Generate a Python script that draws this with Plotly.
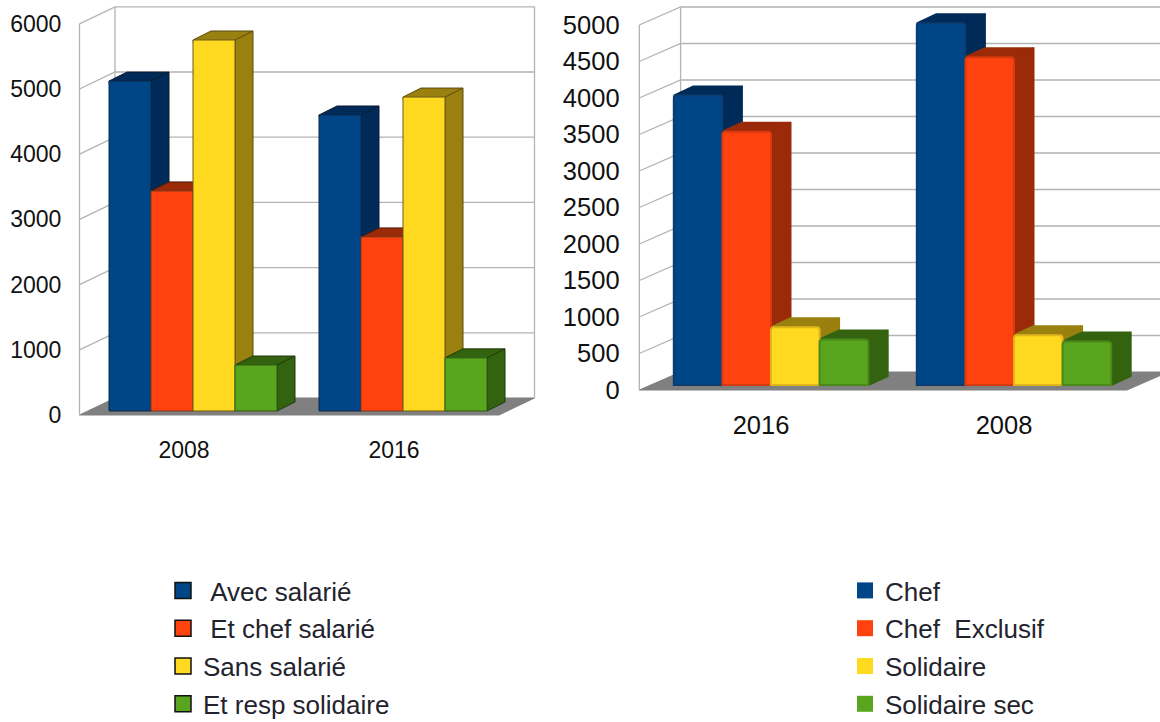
import plotly.graph_objects as go

FONT = "Liberation Sans, Arial, sans-serif"

# ---------- data ----------
left_years = ["2008", "2016"]
avec_salarie = [5060, 4540]
et_chef_salarie = [3375, 2670]
sans_salarie = [5690, 4815]
et_resp_solidaire = [705, 815]
left_ticks = [0, 1000, 2000, 3000, 4000, 5000, 6000]

right_years = ["2016", "2008"]
chef = [3965, 4955]
chef_exclusif = [3470, 4490]
solidaire = [790, 680]
solidaire_sec = [625, 595]
right_ticks = [0, 500, 1000, 1500, 2000, 2500, 3000, 3500, 4000, 4500, 5000]

front_colors = ["#004586", "#ff420e", "#ffd820", "#5aa51e"]
depth_colors = ["#002a57", "#9a2a08", "#99800f", "#346310"]
left_names = ["\u00a0Avec salarié", "\u00a0Et chef salarié", "Sans salarié", "Et resp solidaire"]
right_names = ["Chef", "Chef\u00a0 Exclusif", "Solidaire", "Solidaire sec"]

W, H = 1160, 722
fig = go.Figure()


def add_chart(n, cats, series, names, ticks, g):
    k = g["k"]
    step = g["step"]
    to_x = lambda px: (px - g["cx0"]) / step
    xr = [to_x(g["dom_x"][0]), to_x(g["dom_x"][1])]
    yr = [(g["base"] - g["dom_y"][1]) / k, (g["base"] - g["dom_y"][0]) / k]
    off = (g["wall_base"] - g["base"]) / k
    wdx, wdy = g["wall_depth"][0] / step, g["wall_depth"][1] / k
    bdx, bdy = g["bar_depth"][0] / step, g["bar_depth"][1] / k
    fl, fr = to_x(g["wall_x"][0]), to_x(g["wall_x"][1])

    xa_base = f"x{2 * n - 1}"
    ya_base = f"y{2 * n - 1}"
    xa_top = f"x{2 * n}"
    ya_top = f"y{2 * n}"

    # floor
    v0 = -off
    fig.add_trace(go.Scatter(
        x=[fl, fl + wdx, fr + wdx, fr, fl], y=[v0, v0 + wdy, v0 + wdy, v0, v0],
        fill="toself", fillcolor="#808080", mode="lines", line=dict(color="#808080", width=1),
        hoverinfo="skip", showlegend=False, xaxis=xa_base, yaxis=ya_base))
    # walls and grid
    gx, gy = [], []
    top = ticks[-1] - off
    gx += [fl, fl, None, fl + wdx, fl + wdx, None, fr + wdx, fr + wdx, None]
    gy += [v0, top, None, v0 + wdy, top + wdy, None, v0 + wdy, top + wdy, None]
    for t in ticks[1:]:
        gx += [fl, fl + wdx, fr + wdx, None]
        gy += [t - off, t - off + wdy, t - off + wdy, None]
    fig.add_trace(go.Scatter(x=gx, y=gy, mode="lines", line=dict(color="#b3b3b3", width=1.3),
                             hoverinfo="skip", showlegend=False, xaxis=xa_base, yaxis=ya_base))
    # depth faces (top + side), behind every front face
    m = len(series)
    bw = 0.8 / m
    for i, vals in enumerate(series):
        px, py = [], []
        for c, v in enumerate(vals):
            xl = c - 0.4 + i * bw
            xh = xl + bw
            px += [xl, xl + bdx, xh + bdx, xh + bdx, xh, xl, None]
            py += [v, v + bdy, v + bdy, bdy, 0, v, None]
            px += [xh, xh + bdx, None]
            py += [v, v + bdy, None]
            px += [xh, xh, None]
            py += [0, v, None]
        fig.add_trace(go.Scatter(
            x=px, y=py, fill="toself", fillcolor=depth_colors[i], mode="lines",
            line=dict(color=g["depth_edge"][i], width=g["edge_w"]),
            hoverinfo="skip", showlegend=False, xaxis=xa_base, yaxis=ya_base))
    # front faces
    for i, vals in enumerate(series):
        fig.add_trace(go.Bar(
            x=list(range(len(cats))), y=vals, marker=dict(
                color=front_colors[i],
                line=dict(color=g["front_edge"][i], width=g["edge_w"]),
                cornerradius=g["radius"]),
            showlegend=False, hoverinfo="skip", xaxis=xa_top, yaxis=ya_top))
    # legend entries
    for i, name in enumerate(names):
        fig.add_trace(go.Scatter(
            x=[None], y=[None], mode="markers", name=name, legend=g["legend"],
            legendgroup=f"{g['legend']}{i}",
            marker=dict(symbol="square", size=g["swatch"], color=front_colors[i],
                        line=dict(color=g["swatch_edge"], width=g["swatch_w"])),
            xaxis=xa_base, yaxis=ya_base))

    dom_x = [g["dom_x"][0] / W, g["dom_x"][1] / W]
    dom_y = [1 - g["dom_y"][1] / H, 1 - g["dom_y"][0] / H]
    tickfont = dict(family=FONT, size=g["font"], color="#111111")
    fig.update_layout({
        f"xaxis{2 * n - 1}": dict(
            domain=dom_x, range=xr, showgrid=False, zeroline=False, showline=False,
            tickmode="array", tickvals=[c + g["label_shift"] / step for c in range(len(cats))],
            ticktext=cats, tickfont=tickfont, ticks="outside", ticklen=g["xticklen"],
            tickcolor="rgba(0,0,0,0)", anchor=ya_base),
        f"yaxis{2 * n - 1}": dict(
            domain=dom_y, range=yr, showgrid=False, zeroline=False, showline=False,
            tickmode="array", tickvals=[t - off for t in ticks], ticktext=[str(t) for t in ticks],
            tickfont=tickfont, ticks="outside", ticklen=g["yticklen"],
            tickcolor="rgba(0,0,0,0)", anchor=xa_base),
        f"xaxis{2 * n}": dict(domain=dom_x, range=xr, visible=False, overlaying=xa_base, anchor=ya_top),
        f"yaxis{2 * n}": dict(domain=dom_y, range=yr, visible=False, overlaying=ya_base, anchor=xa_top),
    })


add_chart(
    1, left_years, [avec_salarie, et_chef_salarie, sans_salarie, et_resp_solidaire], left_names, left_ticks,
    dict(k=0.0652, step=210, cx0=193, base=411, wall_base=415, dom_x=(72, 545), dom_y=(0, 425),
         wall_x=(79.5, 499), wall_depth=(35.5, 17), bar_depth=(18, 9), label_shift=-9,
         xticklen=4, yticklen=5, edge_w=1, font=23,
         front_edge=["#0d2a4a", "#7a3a1a", "#6b5a1a", "#2f5a14"],
         depth_edge=["#0a1c33", "#4d1a08", "#5a4a10", "#1c3a0a"], radius=0,
         legend="legend", swatch=16, swatch_edge="#111111", swatch_w=1.5))

add_chart(
    2, right_years, [chef, chef_exclusif, solidaire, solidaire_sec], right_names, right_ticks,
    dict(k=0.073, step=243, cx0=771, base=385, wall_base=390, dom_x=(628, 1160), dom_y=(0, 400),
         wall_x=(639.3, 1127), wall_depth=(41.3, 18), bar_depth=(19.5, 9), label_shift=-10,
         xticklen=2, yticklen=2.3, edge_w=2, font=25.5,
         front_edge=["#0a3d72", "#d63a10", "#e0b61c", "#4a8a1a"],
         depth_edge=["#002a57", "#9a2a08", "#99800f", "#346310"], radius=3,
         legend="legend2", swatch=16, swatch_edge="#ffffff", swatch_w=0))

fig.update_layout(
    width=W, height=H, margin=dict(l=0, r=0, t=0, b=0, autoexpand=False), autosize=False,
    paper_bgcolor="white", plot_bgcolor="rgba(0,0,0,0)",
    barmode="group", bargap=0.2, bargroupgap=0,
    hovermode=False,
    legend=dict(x=163 / W, xanchor="left", y=1 - 567 / H, yanchor="top",
                font=dict(family=FONT, size=26, color="#23232e"),
                tracegroupgap=1, bgcolor="rgba(0,0,0,0)", itemclick=False, itemdoubleclick=False),
    legend2=dict(x=845 / W, xanchor="left", y=1 - 567 / H, yanchor="top",
                 font=dict(family=FONT, size=26, color="#23232e"),
                 tracegroupgap=1, bgcolor="rgba(0,0,0,0)", itemclick=False, itemdoubleclick=False),
)

fig.write_html("out.html", config={"displayModeBar": False},
               post_script="document.body.style.margin='0';document.body.style.overflow='hidden';")
